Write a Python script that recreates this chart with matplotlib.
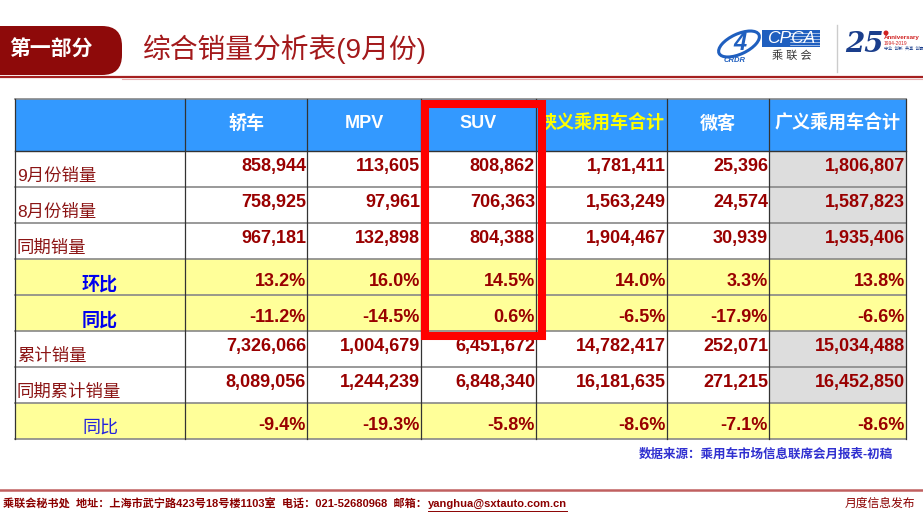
import matplotlib.pyplot as plt
from matplotlib.patches import Rectangle, FancyBboxPatch, Ellipse

plt.rcParams['font.family'] = ['Liberation Sans', 'Noto Sans CJK SC', 'DejaVu Sans']

# table data
columns = ["轿车", "MPV", "SUV", "狭义乘用车合计", "微客", "广义乘用车合计"]
row_labels = ["9月份销量", "8月份销量", "同期销量", "环比", "同比", "累计销量", "同期累计销量", "同比"]
sep_sales = [858944, 113605, 808862, 1781411, 25396, 1806807]
aug_sales = [758925, 97961, 706363, 1563249, 24574, 1587823]
last_year_sales = [967181, 132898, 804388, 1904467, 30939, 1935406]
mom_pct = [13.2, 16.0, 14.5, 14.0, 3.3, 13.8]
yoy_pct = [-11.2, -14.5, 0.6, -6.5, -17.9, -6.6]
ytd_sales = [7326066, 1004679, 6451672, 14782417, 252071, 15034488]
ytd_last_year = [8089056, 1244239, 6848340, 16181635, 271215, 16452850]
ytd_yoy_pct = [-9.4, -19.3, -5.8, -8.6, -7.1, -8.6]

rows = [sep_sales, aug_sales, last_year_sales, mom_pct, yoy_pct,
        ytd_sales, ytd_last_year, ytd_yoy_pct]
is_pct = [False, False, False, True, True, False, False, True]

# layout in pixels
col_edges = [15, 185, 307, 421, 536, 667, 769, 906]
header_top, header_bot = 99, 151
row_h = 36

RED = "#990000"
BLUE_HDR = "#3399FF"
YELLOW = "#FFFF99"
GRAY = "#DDDDDD"

fig = plt.figure(figsize=(9.23, 5.18), dpi=100)
ax = fig.add_axes([0, 0, 1, 1])
ax.set_xlim(0, 923)
ax.set_ylim(518, 0)
ax.axis("off")

# ---- top banner ----
ax.add_patch(FancyBboxPatch((-30, 26), 152, 49, boxstyle="round,pad=0,rounding_size=20",
                            fc="#8E0A0A", ec="none"))
ax.text(51, 50, "第一部分", color="white", fontsize=15, fontweight="bold",
        ha="center", va="center")
ax.text(143, 49, "综合销量分析表(9月份)", color="#A3191B", fontsize=20,
        ha="left", va="center")
ax.plot([0, 923], [76.5, 76.5], color="#A52020", lw=1.6)
ax.plot([122, 923], [78.5, 78.5], color="#E8B0B0", lw=0.8)

# logo (rough)
ax.add_patch(Ellipse((739, 44), 44, 20, angle=-25, fc="none", ec="#1F5FBF", lw=2.2))
ax.text(740, 43, "4", color="#1F5FBF", fontsize=17, fontweight="bold", style="italic",
        ha="center", va="center")
ax.text(735, 61, "CRDR", color="#1F5FBF", fontsize=5.5, fontweight="bold", style="italic",
        ha="center", va="center")
ax.add_patch(Rectangle((762, 30), 58, 17, fc="#1F5FBF", ec="none"))
for yy in (33, 36, 39, 42, 45):
    ax.plot([790, 820], [yy, yy], color="white", lw=0.4)
ax.text(791, 38.5, "CPCA", color="white", fontsize=12.5, style="italic",
        ha="center", va="center")
ax.text(792, 56, "乘 联 会", color="#333333", fontsize=8, ha="center", va="center")
ax.plot([837, 837], [25, 72], color="#CCCCCC", lw=1)
ax.text(864, 45, "25", color="#1A3E8C", fontsize=20, fontweight="bold", style="italic",
        family="DejaVu Serif", ha="center", va="center")
ax.add_patch(Ellipse((886, 33), 5, 5, fc="#D02020", ec="none"))
ax.text(884, 38, "Anniversary", color="#D02020", fontsize=4.5, fontweight="bold",
        ha="left", va="center")
ax.text(884, 43.5, "1994-2019", color="#D02020", fontsize=3.5, ha="left", va="center")
ax.text(884, 48.5, "守业  创新  共享  创赢", color="#1A3E8C", fontsize=3, ha="left", va="center")

# ---- table ----
x0, x1 = col_edges[0], col_edges[-1]
ax.add_patch(Rectangle((x0, header_top), x1 - x0, header_bot - header_top,
                       fc=BLUE_HDR, ec="none", zorder=1))
for i, name in enumerate(columns):
    cx = (col_edges[i + 1] + col_edges[i + 2]) / 2
    color = "#FFFF00" if name == "狭义乘用车合计" else "white"
    ax.text(cx, (header_top + header_bot) / 2 - 1, name, color=color, fontsize=13,
            fontweight="bold", ha="center", va="center", zorder=3)

n_rows = len(rows)
for r in range(n_rows):
    top = header_bot + r * row_h
    bot = top + row_h
    mid = (top + bot) / 2
    if is_pct[r]:
        ax.add_patch(Rectangle((x0, top), x1 - x0, row_h, fc=YELLOW, ec="none", zorder=1))
    else:
        ax.add_patch(Rectangle((col_edges[-2], top), x1 - col_edges[-2], row_h,
                               fc=GRAY, ec="none", zorder=1))
    # row label
    label = row_labels[r]
    if is_pct[r]:
        bold = "bold" if r < 5 else "normal"
        lab_col = "#0000EE" if r < 5 else "#2222DD"
        ax.text(100, mid + 8, label, color=lab_col, fontsize=13, fontweight=bold,
                ha="center", va="center", zorder=3)
    else:
        ax.text(x0 + 2, mid + 7, label, color="#8B1414", fontsize=12.5,
                ha="left", va="center", zorder=3)
    # values
    for c, v in enumerate(rows[r]):
        xr = col_edges[c + 2] - 1
        if is_pct[r]:
            s = f"{v:.1f}%"
            yy = mid + 5
        else:
            s = f"{v:,}"
            yy = mid - 2
        ax.text(xr, yy, s, color=RED, fontsize=13, fontweight="bold",
                ha="right", va="center", zorder=3)

table_bot = header_bot + n_rows * row_h
# grid lines
ax.plot([x0, x1], [header_top, header_top], color="#888888", lw=1.2, zorder=2)
ax.plot([x0, x1], [header_bot, header_bot], color="#333333", lw=1.0, zorder=2)
for r in range(1, n_rows + 1):
    y = header_bot + r * row_h
    ax.plot([x0, x1], [y, y], color="#888888", lw=1.2, zorder=2)
for x in col_edges:
    ax.plot([x, x], [header_top, table_bot], color="#333333", lw=0.9, zorder=2)

# red highlight box around SUV column
ax.add_patch(Rectangle((425, 104), 117, 232, fc="none", ec="#FF0000", lw=5.8, zorder=5))

# ---- footer ----
ax.text(893, 455, "数据来源：乘用车市场信息联席会月报表-初稿", color="#3030D0",
        fontsize=9, fontweight="bold", ha="right", va="center")
ax.plot([0, 923], [490, 490], color="#C06060", lw=1.8)
foot = "乘联会秘书处  地址：上海市武宁路423号18号楼1103室  电话：021-52680968  邮箱："
t = ax.text(3, 504, foot, color="#8B0000", fontsize=8, fontweight="bold",
            ha="left", va="center")
fig.canvas.draw()
bb = t.get_window_extent().transformed(ax.transData.inverted())
ex = bb.x1 + 1
e = ax.text(ex, 504, "yanghua@sxtauto.com.cn", color="#8B0000", fontsize=8,
            fontweight="bold", ha="left", va="center")
eb = e.get_window_extent().transformed(ax.transData.inverted())
ax.plot([eb.x0, eb.x1], [511, 511], color="#8B0000", lw=0.7)
ax.text(915, 504, "月度信息发布", color="#8B0000", fontsize=8.5, ha="right", va="center")

fig.savefig("out.png", dpi=100)
